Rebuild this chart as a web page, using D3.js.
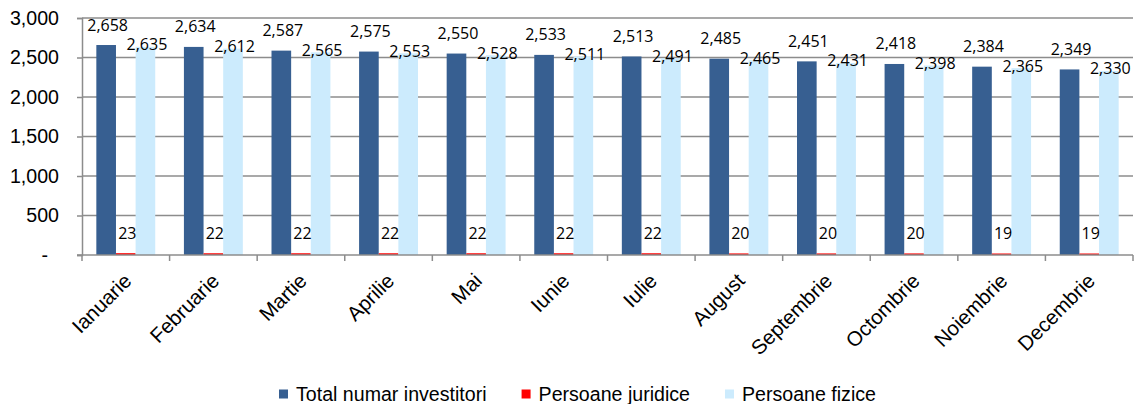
<!DOCTYPE html>
<html>
<head>
<meta charset="utf-8">
<script src="https://cdn.jsdelivr.net/npm/d3@7"></script>
<style>
  body { margin: 0; background: #fff; }
  svg { display: block; }
</style>
</head>
<body>
<svg id="chart"></svg>
<script>
const months = ["Ianuarie", "Februarie", "Martie", "Aprilie", "Mai", "Iunie",
  "Iulie", "August", "Septembrie", "Octombrie", "Noiembrie", "Decembrie"];
const totalInvestitori = [2658, 2634, 2587, 2575, 2550, 2533, 2513, 2485, 2451, 2418, 2384, 2349];
const persoaneJuridice = [23, 22, 22, 22, 22, 22, 22, 20, 20, 20, 19, 19];
const persoaneFizice = [2635, 2612, 2565, 2553, 2528, 2511, 2491, 2465, 2431, 2398, 2365, 2330];
const seriesNames = ["Total numar investitori", "Persoane juridice", "Persoane fizice"];
const yTicks = [0, 500, 1000, 1500, 2000, 2500, 3000];

const width = 1136;
const height = 404;
const colors = ["#375f91", "#ff0000", "#ccebfd"];
const seriesValues = [totalInvestitori, persoaneJuridice, persoaneFizice];

const svg = d3.select("#chart")
  .attr("width", width)
  .attr("height", height);

const plotLeft = 82, plotRight = 1133, plotTop = 18, plotBottom = 255;

const x0 = d3.scaleBand()
  .domain(months)
  .range([plotLeft, plotRight]);

const x1 = d3.scaleBand()
  .domain(seriesNames)
  .range([0, x0.bandwidth()])
  .paddingOuter(0.73);

const y = d3.scaleLinear()
  .domain([0, 3000])
  .range([plotBottom, plotTop]);

// gridlines
svg.append("g")
  .selectAll("line")
  .data(yTicks.filter(d => d > 0))
  .join("line")
  .attr("x1", plotLeft)
  .attr("x2", plotRight)
  .attr("y1", d => y(d))
  .attr("y2", d => y(d))
  .attr("stroke", "#8c8c8c")
  .attr("stroke-width", 1.5);

// y axis
const yAxis = svg.append("g")
  .attr("transform", `translate(${plotLeft},0)`)
  .call(d3.axisLeft(y)
    .tickValues(yTicks)
    .tickSize(5)
    .tickPadding(18)
    .tickFormat(d => d === 0 ? "-" : d3.format(",")(d)));
yAxis.select(".domain").attr("stroke", "#8c8c8c").attr("stroke-width", 1.5);
yAxis.selectAll(".tick line").attr("stroke", "#8c8c8c").attr("stroke-width", 1.5);
yAxis.selectAll(".tick text")
  .attr("font-family", "'Liberation Sans', Arial, sans-serif")
  .attr("font-size", "19.6px")
  .attr("fill", "#000")
  .attr("dx", d => d === 0 ? -11 : 0);

// bars
const groups = svg.append("g")
  .selectAll("g")
  .data(months)
  .join("g")
  .attr("transform", d => `translate(${x0(d)},0)`);

groups.selectAll("rect")
  .data((m, i) => seriesNames.map((s, k) => ({ s, k, v: seriesValues[k][i] })))
  .join("rect")
  .attr("x", d => x1(d.s))
  .attr("width", x1.bandwidth())
  .attr("y", d => y(d.v))
  .attr("height", d => y(0) - y(d.v))
  .attr("fill", d => colors[d.k]);

// data labels
groups.selectAll("text")
  .data((m, i) => seriesNames.map((s, k) => ({ s, k, v: seriesValues[k][i] })))
  .join("text")
  .attr("x", d => x1(d.s) + x1.bandwidth() / 2 + 1.5)
  .attr("y", d => d.k === 2 ? y(d.v) + 3.5 : y(d.v) - 14.5)
  .attr("text-anchor", "middle")
  .attr("font-family", "'Open Sans', sans-serif")
  .attr("font-size", "16px")
  .attr("fill", "#000")
  .text(d => d3.format(",")(d.v));

// x axis
const xAxis = svg.append("g")
  .attr("transform", `translate(0,${plotBottom})`);
xAxis.append("line")
  .attr("x1", plotLeft - 5)
  .attr("x2", plotRight)
  .attr("stroke", "#8c8c8c")
  .attr("stroke-width", 1.5);
xAxis.selectAll(".tk")
  .data(months.map(m => x0(m)).concat([plotRight]))
  .join("line")
  .attr("class", "tk")
  .attr("x1", d => d)
  .attr("x2", d => d)
  .attr("y1", 0)
  .attr("y2", 6)
  .attr("stroke", "#8c8c8c")
  .attr("stroke-width", 1.5);
xAxis.selectAll("text")
  .data(months)
  .join("text")
  .attr("transform", d => `translate(${x0(d) + x0.bandwidth() / 2 + 2},22) rotate(-45)`)
  .attr("dy", "0.35em")
  .attr("text-anchor", "end")
  .attr("font-family", "'Liberation Sans', Arial, sans-serif")
  .attr("font-size", "20.5px")
  .attr("fill", "#000")
  .text(d => d);

// legend
const legend = svg.append("g");
let lx = 279;
seriesNames.forEach((s, k) => {
  legend.append("rect")
    .attr("x", lx)
    .attr("y", 389.5)
    .attr("width", 9)
    .attr("height", 9)
    .attr("fill", colors[k]);
  const t = legend.append("text")
    .attr("x", lx + 17)
    .attr("y", 401)
    .attr("font-family", "'Liberation Sans', Arial, sans-serif")
    .attr("font-size", "19.6px")
    .attr("fill", "#000")
    .text(s);
  lx += 17 + t.node().getComputedTextLength() + 35;
});
</script>
</body>
</html>
